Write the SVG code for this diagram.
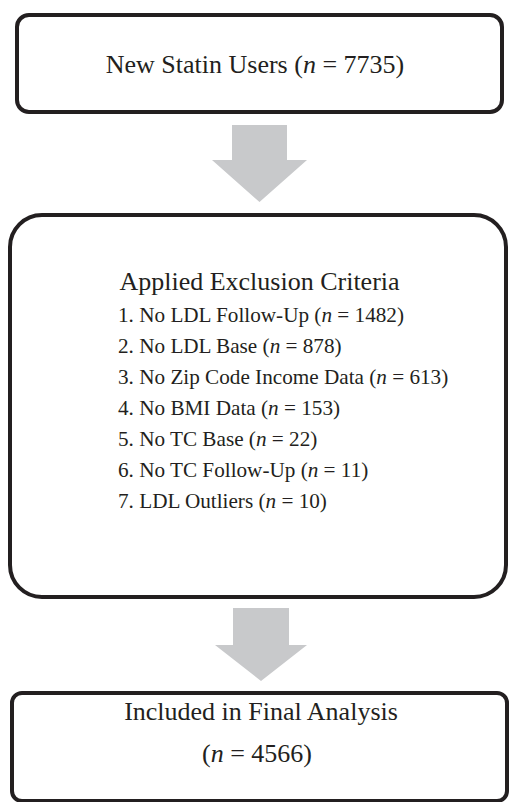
<svg xmlns="http://www.w3.org/2000/svg" width="509" height="802" viewBox="0 0 509 802">
  <style>
    .box { fill: #ffffff; stroke: #231f20; stroke-width: 4; }
    .arrow { fill: #c8c9cb; }
    text { font-family: "Liberation Serif", "Times New Roman", serif; fill: #231f20; }
    .big { font-size: 26px; }
    .item { font-size: 21.2px; }
    .n { font-style: italic; }
  </style>
  <rect width="509" height="802" fill="#ffffff"/>

  <g id="connectors">
    <polygon class="arrow" points="232,125 287,125 287,160 307,160 259.5,202 212,160 232,160"/>
    <polygon class="arrow" points="233,608 289,608 289,645 307,645 261,681 215,645 233,645"/>
  </g>

  <g id="node-start">
    <rect class="box" x="17" y="15" width="485" height="97" rx="12"/>
    <text class="big" x="255" y="73" text-anchor="middle">New Statin Users (<tspan class="n">n</tspan> = 7735)</text>
  </g>

  <g id="node-exclusion">
    <rect class="box" x="10" y="215" width="496" height="382" rx="32"/>
    <text class="big" x="259.5" y="290" text-anchor="middle">Applied Exclusion Criteria</text>
    <text class="item" x="118" y="322">1. No LDL Follow-Up (<tspan class="n">n</tspan> = 1482)</text>
    <text class="item" x="118" y="353">2. No LDL Base (<tspan class="n">n</tspan> = 878)</text>
    <text class="item" x="118" y="384">3. No Zip Code Income Data (<tspan class="n">n</tspan> = 613)</text>
    <text class="item" x="118" y="415">4. No BMI Data (<tspan class="n">n</tspan> = 153)</text>
    <text class="item" x="118" y="446">5. No TC Base (<tspan class="n">n</tspan> = 22)</text>
    <text class="item" x="118" y="477">6. No TC Follow-Up (<tspan class="n">n</tspan> = 11)</text>
    <text class="item" x="118" y="508">7. LDL Outliers (<tspan class="n">n</tspan> = 10)</text>
  </g>

  <g id="node-final">
    <rect class="box" x="12" y="693" width="495" height="108" rx="10"/>
    <text class="big" x="261" y="720" text-anchor="middle">Included in Final Analysis</text>
    <text class="big" x="257" y="762" text-anchor="middle">(<tspan class="n">n</tspan> = 4566)</text>
  </g>
</svg>
